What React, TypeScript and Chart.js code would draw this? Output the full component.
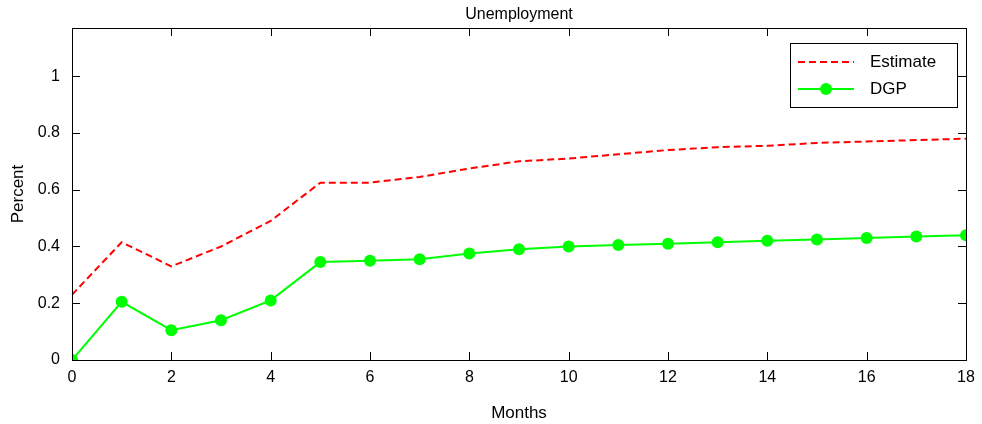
import React, { useEffect, useRef } from 'react';
import { Chart, registerables } from 'chart.js';

Chart.register(...registerables);

const months: number[] = [0, 1, 2, 3, 4, 5, 6, 7, 8, 9, 10, 11, 12, 13, 14, 15, 16, 17, 18];
const estimate: number[] = [0.23, 0.415, 0.33, 0.4, 0.49, 0.625, 0.625, 0.645, 0.675, 0.7, 0.71, 0.725, 0.74, 0.75, 0.755, 0.765, 0.77, 0.775, 0.78];
const dgp: number[] = [0, 0.205, 0.105, 0.14, 0.21, 0.345, 0.35, 0.355, 0.375, 0.39, 0.4, 0.405, 0.41, 0.415, 0.42, 0.425, 0.43, 0.435, 0.44];
const yTicks: number[] = [0, 0.2, 0.4, 0.6, 0.8, 1];
const xTicks: number[] = [0, 2, 4, 6, 8, 10, 12, 14, 16, 18];

const FONT = '"Liberation Sans", Arial, sans-serif';

const boxPlugin = {
  id: 'box',
  afterDraw(chart: any) {
    const { ctx, chartArea: a, scales } = chart;
    ctx.save();
    ctx.strokeStyle = '#000';
    ctx.lineWidth = 1;
    ctx.strokeRect(a.left + 0.5, a.top + 0.5, a.right - a.left, a.bottom - a.top);
    ctx.beginPath();
    xTicks.forEach((t) => {
      const px = Math.round(scales.x.getPixelForValue(t)) + 0.5;
      ctx.moveTo(px, a.bottom); ctx.lineTo(px, a.bottom - 8);
      ctx.moveTo(px, a.top); ctx.lineTo(px, a.top + 8);
    });
    yTicks.forEach((t) => {
      const py = Math.round(scales.y.getPixelForValue(t)) + 0.5;
      ctx.moveTo(a.left, py); ctx.lineTo(a.left + 8, py);
      ctx.moveTo(a.right, py); ctx.lineTo(a.right - 8, py);
    });
    ctx.stroke();
    // title
    ctx.fillStyle = '#000';
    ctx.font = `16px ${FONT}`;
    ctx.textAlign = 'center';
    ctx.textBaseline = 'bottom';
    ctx.fillText('Unemployment', (a.left + a.right) / 2, a.top - 5);
    // legend
    const x0 = 790, y0 = 43, w = 167, h = 64;
    ctx.fillStyle = '#fff';
    ctx.fillRect(x0, y0, w, h);
    ctx.strokeRect(x0 + 0.5, y0 + 0.5, w, h);
    ctx.lineWidth = 2;
    ctx.strokeStyle = '#ff0000';
    ctx.setLineDash([7, 4]);
    ctx.beginPath();
    ctx.moveTo(x0 + 8, y0 + 19);
    ctx.lineTo(x0 + 64, y0 + 19);
    ctx.stroke();
    ctx.setLineDash([]);
    ctx.strokeStyle = '#00ff00';
    ctx.beginPath();
    ctx.moveTo(x0 + 8, y0 + 46);
    ctx.lineTo(x0 + 64, y0 + 46);
    ctx.stroke();
    ctx.fillStyle = '#00ff00';
    ctx.beginPath();
    ctx.arc(x0 + 36, y0 + 46, 6, 0, Math.PI * 2);
    ctx.fill();
    ctx.fillStyle = '#000';
    ctx.font = `17px ${FONT}`;
    ctx.textAlign = 'left';
    ctx.textBaseline = 'middle';
    ctx.fillText('Estimate', x0 + 80, y0 + 19);
    ctx.fillText('DGP', x0 + 80, y0 + 46);
    ctx.restore();
  },
};

export default function App() {
  const chartRef = useRef<HTMLCanvasElement>(null);

  useEffect(() => {
    document.body.style.margin = '0';
    const el = chartRef.current;
    if (!el) return;
    const chart = new Chart(el, {
      type: 'line',
      data: {
        datasets: [
          {
            label: 'Estimate',
            data: months.map((m, i) => ({ x: m, y: estimate[i] })),
            borderColor: '#ff0000',
            borderWidth: 2,
            borderDash: [7, 4],
            pointRadius: 0,
            tension: 0,
          },
          {
            label: 'DGP',
            data: months.map((m, i) => ({ x: m, y: dgp[i] })),
            borderColor: '#00ff00',
            backgroundColor: '#00ff00',
            borderWidth: 2,
            pointRadius: 6,
            pointBorderWidth: 0,
            tension: 0,
          },
        ],
      },
      options: {
        animation: false,
        responsive: false,
        layout: { padding: { top: 28, right: 16, left: 8, bottom: 0 } },
        plugins: { legend: { display: false }, tooltip: { enabled: false } },
        scales: {
          x: {
            type: 'linear',
            min: 0,
            max: 18,
            grid: { display: false },
            border: { display: false },
            afterBuildTicks: (s: any) => { s.ticks = xTicks.map((v) => ({ value: v })); },
            ticks: { color: '#000', padding: 0, font: { family: FONT, size: 16 } },
            title: { display: true, text: 'Months', color: '#000', font: { family: FONT, size: 17 }, padding: { top: 2, bottom: 0 } },
            afterFit: (s: any) => { s.height = 64; },
          },
          y: {
            min: 0,
            max: 1.17,
            grid: { display: false },
            border: { display: false },
            afterBuildTicks: (s: any) => { s.ticks = yTicks.map((v) => ({ value: v })); },
            ticks: {
              color: '#000',
              padding: 4,
              font: { family: FONT, size: 16 },
              callback: (v: any) => String(Math.round(v * 10) / 10),
            },
            title: { display: true, text: 'Percent', color: '#000', font: { family: FONT, size: 17 }, padding: 0 },
            afterFit: (s: any) => { s.width = 64; },
          },
        },
      },
      plugins: [boxPlugin],
    });
    return () => chart.destroy();
  }, []);

  return <canvas ref={chartRef} width={982} height={424} style={{ display: 'block' }} />;
}
